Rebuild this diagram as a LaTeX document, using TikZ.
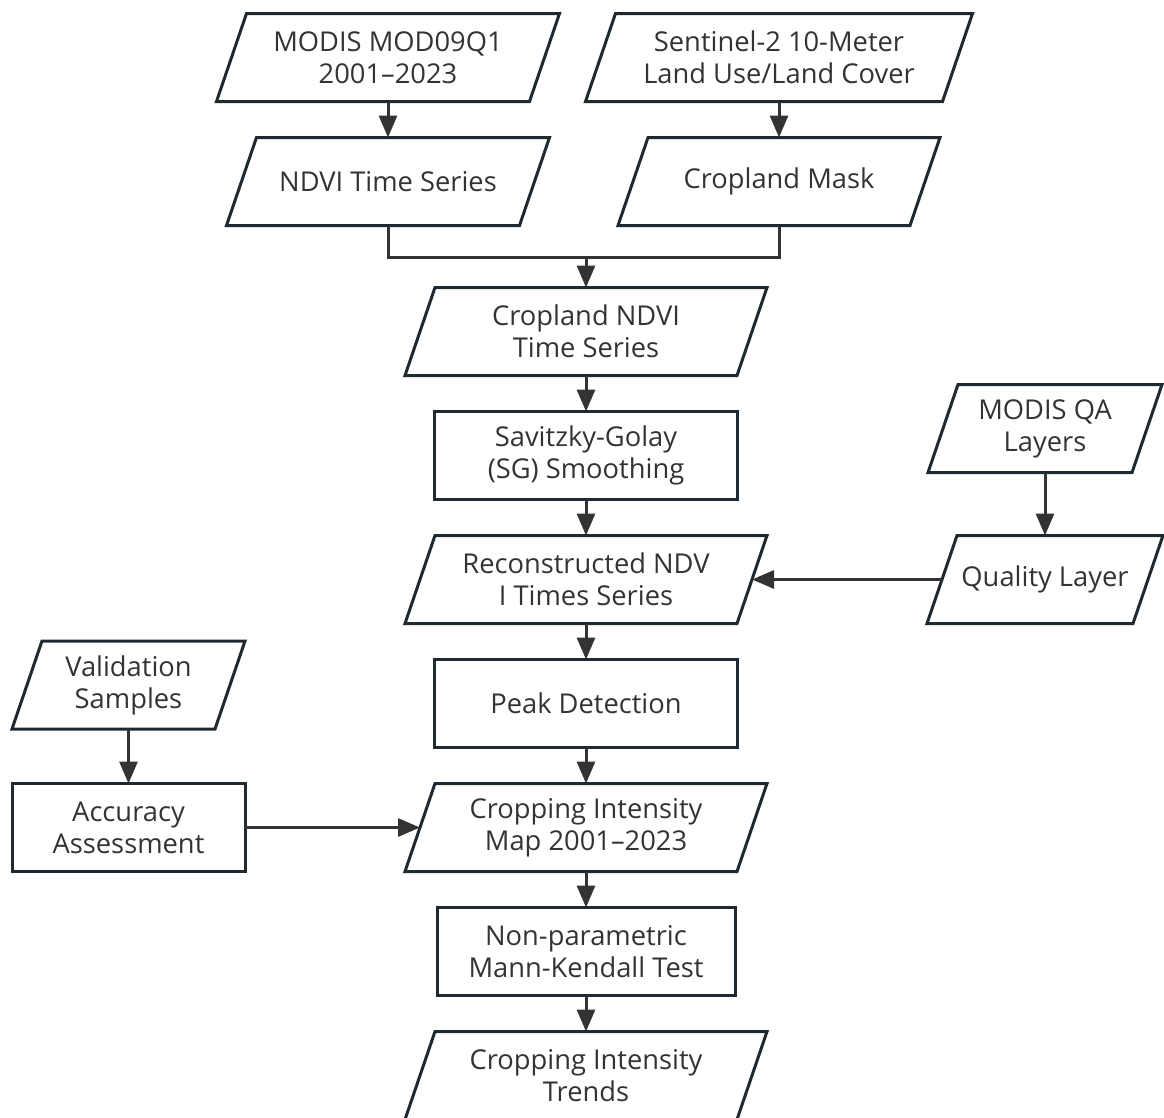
\documentclass[tikz,border=0pt]{standalone}
\usepackage{fontspec}
\setmainfont{Open Sans}
\usepackage{tikz}
\usetikzlibrary{positioning, calc}
\usetikzlibrary{arrows.meta}
\definecolor{edgecol}{HTML}{1E2A30}
\definecolor{inkcol}{HTML}{333333}
\tikzstyle{arrow}=[line width=3pt, draw=inkcol, -{Triangle[length=22pt, width=18pt]}]
\tikzstyle{line}=[line width=3pt, draw=inkcol]
\tikzstyle{frame}=[line width=3pt, draw=edgecol, line join=miter]
\tikzstyle{data}=[rectangle, outer sep=0pt, minimum height=88pt, inner sep=2pt, align=center, text=inkcol, font=\fontsize{27.3}{32}\selectfont]
\tikzstyle{process}=[data, draw=edgecol, line width=3pt]

\begin{document}
\begin{tikzpicture}[node distance = 36pt]
        \useasboundingbox (0,0) rectangle (1164pt,-1117pt);

        % Draw the inputs
        \node[data, minimum width=313pt] (modis) at (388pt,-57.5pt) {MODIS MOD09Q1\\2001–2023};
        \node[data, minimum width=293pt, below = of modis] (ndvi series) {NDVI Time Series};
        \node[data, minimum width=357pt] (sentinel) at (779pt,-57.5pt) {Sentinel-2 10-Meter\\Land Use/Land Cover};
        \node[data, minimum width=292pt, below = of sentinel] (cropland mask) {Cropland Mask};
        \coordinate (merge) at (586pt,-257pt);

        % Draw the main column
        \node[data, minimum width=332pt, below = 30.5pt of merge] (cropland ndvi) {Cropland NDVI\\Time Series};
        \node[process, minimum width=303pt, below = of cropland ndvi] (sg smoothing) {Savitzky-Golay\\(SG) Smoothing};
        \node[data, minimum width=332pt, below = of sg smoothing] (reconstructed) {Reconstructed NDV\\I Times Series};
        \node[process, minimum width=303pt, below = of reconstructed] (peak detection) {Peak Detection};
        \node[data, minimum width=332pt, below = of peak detection] (intensity map) {Cropping Intensity\\Map 2001–2023};
        \node[process, minimum width=298pt, below = of intensity map] (mk test) {Non-parametric\\Mann-Kendall Test};
        \node[data, minimum width=332pt, below = of mk test] (intensity trends) {Cropping Intensity\\Trends};

        % Draw the side branches
        \node[data, minimum width=206pt, right = 190pt of reconstructed] (quality layer) {Quality Layer};
        \node[data, minimum width=204pt, above = 63pt of quality layer] (qa layers) {MODIS QA\\Layers};
        \node[process, minimum width=233pt, left = 175pt of intensity map] (accuracy) {Accuracy\\Assessment};
        \node[data, minimum width=203pt, above = 54.5pt of accuracy] (validation) {Validation\\Samples};

        % Slanted outlines of the data nodes
        \def\datanodes{modis, ndvi series, sentinel, cropland mask, cropland ndvi, reconstructed, intensity map, intensity trends, quality layer, qa layers, validation}
        \foreach \d in \datanodes {
            \draw[frame] ($(\d.south west)+(-15pt,0)$) -- ($(\d.north west)+(15pt,0)$) -- ($(\d.north east)+(15pt,0)$) -- ($(\d.south east)+(-15pt,0)$) -- cycle;
        }

        % Draw the connectors
        \draw[arrow] (modis) -- (ndvi series);
        \draw[arrow] (sentinel) -- (cropland mask);
        \draw[line] (ndvi series.south) |- (merge) -| (cropland mask.south);
        \draw[arrow] (merge) -- (cropland ndvi);
        \draw[arrow] (cropland ndvi) -- (sg smoothing);
        \draw[arrow] (sg smoothing) -- (reconstructed);
        \draw[arrow] (reconstructed) -- (peak detection);
        \draw[arrow] (peak detection) -- (intensity map);
        \draw[arrow] (intensity map) -- (mk test);
        \draw[arrow] (mk test) -- (intensity trends);
        \draw[arrow] (qa layers) -- (quality layer);
        \draw[arrow] (quality layer.west) -- (reconstructed.east);
        \draw[arrow] (validation) -- (accuracy);
        \draw[arrow] (accuracy.east) -- (intensity map.west);

    \end{tikzpicture}
\end{document}
